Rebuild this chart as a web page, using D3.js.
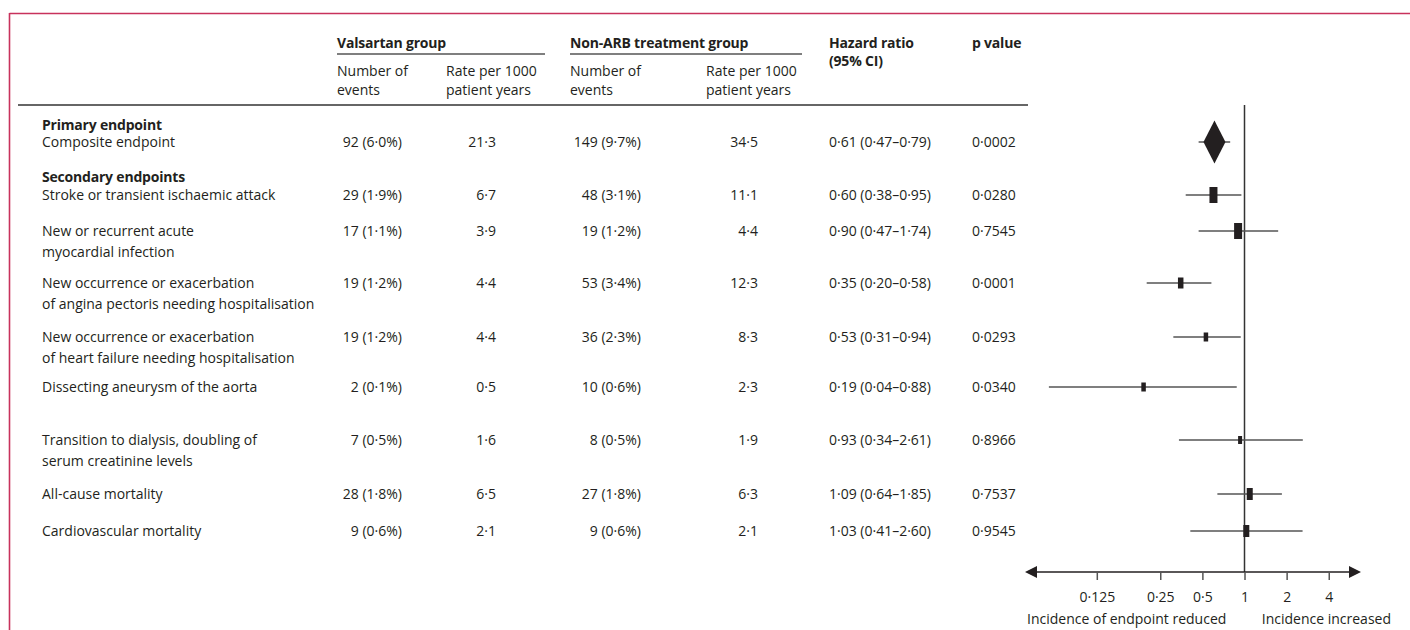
<!DOCTYPE html>
<html>
<head>
<meta charset="utf-8">
<script src="https://cdn.jsdelivr.net/npm/d3@7"></script>
<style>
  html, body { margin: 0; padding: 0; background: #fff; }
  svg { display: block; }
  text { font-family: "Open Sans", "Noto Sans", sans-serif; fill: #231f20; }
</style>
</head>
<body>
<svg id="chart" width="1410" height="630"></svg>
<script>
// Endpoint labels (one entry per line of the label)
const endpoints = [
  ["Composite endpoint"],
  ["Stroke or transient ischaemic attack"],
  ["New or recurrent acute", "myocardial infection"],
  ["New occurrence or exacerbation", "of angina pectoris needing hospitalisation"],
  ["New occurrence or exacerbation", "of heart failure needing hospitalisation"],
  ["Dissecting aneurysm of the aorta"],
  ["Transition to dialysis, doubling of", "serum creatinine levels"],
  ["All-cause mortality"],
  ["Cardiovascular mortality"]
];
const valsartanEvents = ["92 (6·0%)", "29 (1·9%)", "17 (1·1%)", "19 (1·2%)", "19 (1·2%)", "2 (0·1%)", "7 (0·5%)", "28 (1·8%)", "9 (0·6%)"];
const valsartanRate   = ["21·3", "6·7", "3·9", "4·4", "4·4", "0·5", "1·6", "6·5", "2·1"];
const nonArbEvents    = ["149 (9·7%)", "48 (3·1%)", "19 (1·2%)", "53 (3·4%)", "36 (2·3%)", "10 (0·6%)", "8 (0·5%)", "27 (1·8%)", "9 (0·6%)"];
const nonArbRate      = ["34·5", "11·1", "4·4", "12·3", "8·3", "2·3", "1·9", "6·3", "2·1"];
const hazardRatio     = [0.61, 0.60, 0.90, 0.35, 0.53, 0.19, 0.93, 1.09, 1.03];
const ciLower         = [0.47, 0.38, 0.47, 0.20, 0.31, 0.04, 0.34, 0.64, 0.41];
const ciUpper         = [0.79, 0.95, 1.74, 0.58, 0.94, 0.88, 2.61, 1.85, 2.60];
const pValues         = ["0·0002", "0·0280", "0·7545", "0·0001", "0·0293", "0·0340", "0·8966", "0·7537", "0·9545"];
// Relative weight of each estimate (square size)
const boxWeight       = [0, 8, 8, 5.5, 4.5, 4.5, 4, 6, 6];
// Axis ticks: where each tick sits and what it reads
const tickPositions   = [0.088, 0.25, 0.5, 1, 2, 4];
const tickLabels      = ["0·125", "0·25", "0·5", "1", "2", "4"];

const fmt2 = v => v.toFixed(2).replace(".", "·");

const svg = d3.select("#chart");

// Frame rules
const frame = "#c8325c";
svg.append("line").attr("x1", 9.5).attr("x2", 1410).attr("y1", 13.5).attr("y2", 13.5)
  .attr("stroke", frame).attr("stroke-width", 1.6);
svg.append("line").attr("x1", 9.5).attr("x2", 9.5).attr("y1", 13).attr("y2", 630)
  .attr("stroke", frame).attr("stroke-width", 1.6);

// Column positions
const col = {
  label: 42,
  vEvents: 402, vRate: 496,
  nEvents: 641, nRate: 758,
  hr: 829, p: 972
};
const fs = 14;

// Header
const head = svg.append("g");
function htext(x, y, s, bold, anchor) {
  head.append("text").attr("x", x).attr("y", y).attr("dy", "0.35em")
    .attr("font-size", fs).attr("font-weight", bold ? 700 : 400)
    .attr("letter-spacing", bold ? -0.2 : 0)
    .attr("text-anchor", anchor || "start").text(s);
}
htext(337, 43, "Valsartan group", true);
htext(570, 43, "Non-ARB treatment group", true);
htext(829, 43, "Hazard ratio", true);
htext(829, 61, "(95% CI)", true);
htext(972, 43, "p value", true);
head.append("line").attr("x1", 337).attr("x2", 545).attr("y1", 54).attr("y2", 54)
  .attr("stroke", "#555").attr("stroke-width", 1.5);
head.append("line").attr("x1", 570).attr("x2", 802).attr("y1", 54).attr("y2", 54)
  .attr("stroke", "#555").attr("stroke-width", 1.5);
htext(337, 71, "Number of"); htext(337, 90, "events");
htext(446, 71, "Rate per 1000"); htext(446, 90, "patient years");
htext(570, 71, "Number of"); htext(570, 90, "events");
htext(706, 71, "Rate per 1000"); htext(706, 90, "patient years");
head.append("line").attr("x1", 18).attr("x2", 1028).attr("y1", 105).attr("y2", 105)
  .attr("stroke", "#333").attr("stroke-width", 1.5);

// Section headings
htext(col.label, 125, "Primary endpoint", true);
htext(col.label, 177, "Secondary endpoints", true);

// Row centres
const rowY = [142, 195, 231, 283, 337, 387, 440, 494, 531];
const lineGap = 21;

const rows = svg.append("g").selectAll("g").data(endpoints).join("g")
  .attr("transform", (d, i) => `translate(0,${rowY[i]})`);

rows.each(function(lines, i) {
  const g = d3.select(this);
  lines.forEach((s, k) => {
    g.append("text").attr("x", col.label).attr("y", k * lineGap).attr("dy", "0.35em")
      .attr("font-size", fs).text(s);
  });
  const cell = (x, s, anchor) => g.append("text").attr("x", x).attr("dy", "0.35em")
    .attr("font-size", fs).attr("text-anchor", anchor).text(s);
  cell(col.vEvents, valsartanEvents[i], "end");
  cell(col.vRate, valsartanRate[i], "end");
  cell(col.nEvents, nonArbEvents[i], "end");
  cell(col.nRate, nonArbRate[i], "end");
  cell(col.hr, `${fmt2(hazardRatio[i])} (${fmt2(ciLower[i])}–${fmt2(ciUpper[i])})`, "start");
  cell(col.p, pValues[i], "start");
});

// Forest plot
const x = d3.scaleLog().base(2).domain([0.027, 6.8]).range([1025, 1361]);
const axisY = 572;
const boxH = d3.scaleLinear().domain([0, 8]).range([0, 16]);
const plot = svg.append("g");

// Line of no effect
plot.append("line").attr("x1", x(1)).attr("x2", x(1)).attr("y1", 105).attr("y2", axisY)
  .attr("stroke", "#333").attr("stroke-width", 1.5);

// Whiskers
plot.selectAll("line.ci").data(hazardRatio).join("line").attr("class", "ci")
  .attr("x1", (d, i) => x(ciLower[i])).attr("x2", (d, i) => x(ciUpper[i]))
  .attr("y1", (d, i) => rowY[i]).attr("y2", (d, i) => rowY[i])
  .attr("stroke", "#555").attr("stroke-width", 1.5);

// Squares for secondary endpoints
plot.selectAll("rect.est").data(hazardRatio.slice(1)).join("rect").attr("class", "est")
  .attr("x", (d, i) => x(d) - boxH(boxWeight[i + 1]) / 4)
  .attr("y", (d, i) => rowY[i + 1] - boxH(boxWeight[i + 1]) / 2)
  .attr("width", (d, i) => boxH(boxWeight[i + 1]) / 2)
  .attr("height", (d, i) => boxH(boxWeight[i + 1]))
  .attr("fill", "#231f20");

// Diamond for the composite endpoint
const cx = x(hazardRatio[0]), cy = rowY[0];
plot.append("path")
  .attr("d", `M${cx},${cy - 21.5} L${cx + 11},${cy} L${cx},${cy + 21.5} L${cx - 11},${cy} Z`)
  .attr("fill", "#231f20");

// Axis with arrowheads
const [r0, r1] = x.range();
plot.append("line").attr("x1", r0 + 8).attr("x2", r1 - 8).attr("y1", axisY).attr("y2", axisY)
  .attr("stroke", "#231f20").attr("stroke-width", 1.5);
plot.append("path").attr("d", `M${r0},${axisY} L${r0 + 12},${axisY - 6} L${r0 + 12},${axisY + 6} Z`).attr("fill", "#231f20");
plot.append("path").attr("d", `M${r1},${axisY} L${r1 - 12},${axisY - 6} L${r1 - 12},${axisY + 6} Z`).attr("fill", "#231f20");

const axis = d3.axisBottom(x).tickValues(tickPositions)
  .tickFormat((d, i) => tickLabels[i]).tickSize(8).tickPadding(12);
const ag = plot.append("g").attr("transform", `translate(0,${axisY})`).call(axis);
ag.select(".domain").remove();
ag.selectAll(".tick line").attr("stroke", "#555").attr("stroke-width", 1.5);
ag.selectAll(".tick text").attr("font-size", fs).attr("font-family", null).attr("fill", "#231f20");

plot.append("text").attr("x", 1027).attr("y", 619).attr("dy", "0.35em").attr("font-size", fs)
  .text("Incidence of endpoint reduced");
plot.append("text").attr("x", 1391).attr("y", 619).attr("dy", "0.35em").attr("font-size", fs)
  .attr("text-anchor", "end").text("Incidence increased");
</script>
</body>
</html>
